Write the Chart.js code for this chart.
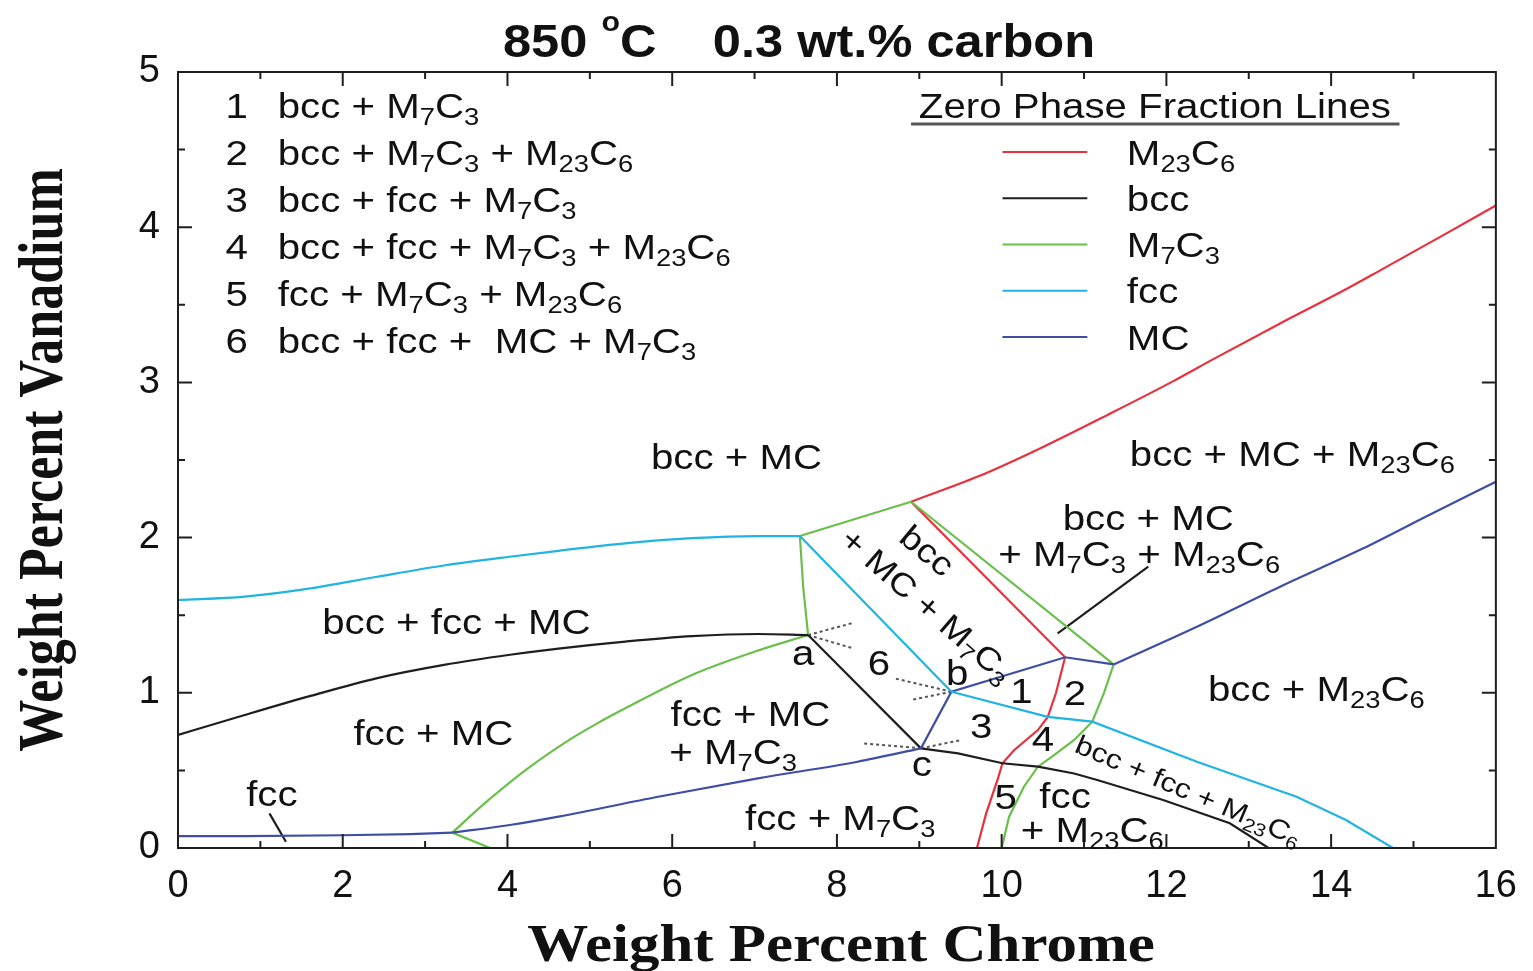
<!DOCTYPE html>
<html>
<head>
<meta charset="utf-8">
<script src="https://cdn.jsdelivr.net/npm/chart.js@4.4.1/dist/chart.umd.min.js"></script>
<style>
html, body { margin: 0; padding: 0; background: #fff; }
</style>
</head>
<body>
<canvas id="diagramaFases" width="1533" height="971"></canvas>
<script>
// Líneas de fracción de fase cero, pares [wt.% Cr, wt.% V]
const m23c6Sup = [[8.90,2.231],[9.71,2.393],[10.51,2.586],[11.32,2.80],[12.09,3.01],[12.57,3.15],[13.38,3.38],[14.18,3.60],[14.59,3.72],[15.4,3.96],[16,4.14]];
const m23c6Med = [[8.90,2.231],[10.77,1.229]];
const m23c6Inf = [[10.77,1.229],[10.66,1.0],[10.56,0.845],[10.44,0.76],[10.15,0.63],[10.01,0.546],[9.95,0.44],[9.81,0.22],[9.70,0]];

const bccIzq = [[0,0.728],[0.81,0.857],[1.61,0.98],[2.42,1.095],[3.23,1.18],[4.03,1.245],[4.62,1.285],[5.43,1.33],[6.24,1.365],[7.04,1.379],[7.65,1.372]];
const bccMed = [[7.65,1.372],[9.02,0.642]];
const bccDer = [[9.02,0.642],[9.47,0.61],[10.01,0.546],[10.44,0.524],[10.88,0.48],[11.16,0.438],[11.96,0.309],[12.77,0.159],[13.24,0]];

const m7c3Base = [[3.79,0],[3.33,0.099]];
const m7c3Curva = [[3.33,0.099],[3.75,0.30],[4.24,0.51],[4.76,0.70],[5.08,0.80],[5.43,0.90],[6.24,1.115],[7.04,1.272],[7.65,1.372]];
const m7c3Vert = [[7.65,1.372],[7.59,1.684],[7.55,2.01]];
const m7c3Sup = [[7.55,2.01],[8.90,2.231]];
const m7c3Diag = [[8.90,2.231],[11.36,1.183]];
const m7c3Inf = [[11.36,1.183],[11.24,0.996],[11.10,0.814],[10.88,0.696],[10.64,0.6],[10.44,0.524],[10.27,0.395],[10.09,0.202],[10.0,0]];

const fccSup = [[0,1.598],[0.81,1.62],[1.61,1.673],[2.42,1.748],[3.23,1.82],[4.0,1.875],[4.62,1.915],[5.43,1.963],[6.24,1.996],[7.04,2.01],[7.55,2.01]];
const fccMed = [[7.55,2.01],[9.39,1.007]];
const fccDer = [[9.39,1.007],[10.56,0.845],[11.10,0.814],[12.37,0.556],[13.58,0.33],[14.18,0.18],[14.75,0]];

const mcPlano = [[0,0.077],[0.81,0.077],[2.0,0.082],[2.82,0.09],[3.33,0.099]];
const mcIzq = [[3.33,0.099],[4.03,0.148],[4.62,0.202],[5.83,0.33],[7.04,0.449],[8.25,0.556],[9.02,0.642]];
const mcMed = [[9.02,0.642],[9.39,1.007],[10.77,1.229],[11.36,1.183]];
const mcDer = [[11.36,1.183],[12.37,1.426],[13.38,1.684],[14.39,1.931],[15.19,2.146],[16,2.36]];

// líneas punteadas en los puntos a, b, c
const punteadas = [
    [[7.65,1.372],[8.18,1.448]], [[7.65,1.372],[8.20,1.286]],
    [[9.39,1.007],[8.70,1.093]], [[9.39,1.007],[8.90,0.954]],
    [[9.02,0.642],[8.30,0.675]], [[9.02,0.642],[9.51,0.696]]
];
// rayitas que señalan regiones
const indicadores = [[[11.78,1.813],[10.68,1.383]], [[1.11,0.223],[1.31,0.04]]];

// ticks
const ticksX = [0, 2, 4, 6, 8, 10, 12, 14, 16];
const ticksY = [0, 1, 2, 3, 4, 5];

// textos (los [] son subíndices, {} superíndice)
const listaFases = [
    'bcc + M[7]C[3]',
    'bcc + M[7]C[3] + M[23]C[6]',
    'bcc + fcc + M[7]C[3]',
    'bcc + fcc + M[7]C[3] + M[23]C[6]',
    'fcc + M[7]C[3] + M[23]C[6]',
    'bcc + fcc +  MC + M[7]C[3]'
];
const nombresLeyenda = ['M[23]C[6]', 'bcc', 'M[7]C[3]', 'fcc', 'MC'];
const regiones = [
    { t: 'bcc + MC', x: 6.78, y: 2.526 },
    { t: 'bcc + MC + M[23]C[6]', x: 13.53, y: 2.545 },
    { t: 'bcc + MC', x: 11.78, y: 2.133 },
    { t: '+ M[7]C[3] + M[23]C[6]', x: 11.67, y: 1.90 },
    { t: 'bcc + fcc + MC', x: 3.38, y: 1.463 },
    { t: 'fcc + MC', x: 3.10, y: 0.747 },
    { t: 'fcc + MC', x: 6.95, y: 0.87 },
    { t: '+ M[7]C[3]', x: 6.74, y: 0.625 },
    { t: 'fcc', x: 1.14, y: 0.354 },
    { t: 'fcc + M[7]C[3]', x: 8.04, y: 0.20 },
    { t: 'bcc + M[23]C[6]', x: 13.82, y: 1.03 },
    { t: '5', x: 10.05, y: 0.335 },
    { t: 'fcc', x: 10.77, y: 0.341 },
    { t: '+ M[23]C[6]', x: 11.10, y: 0.122 },
    { t: '1', x: 10.24, y: 1.018 },
    { t: '2', x: 10.89, y: 1.005 },
    { t: '3', x: 9.75, y: 0.79 },
    { t: '4', x: 10.5, y: 0.709 },
    { t: '6', x: 8.51, y: 1.198 },
    { t: 'a', x: 7.59, y: 1.263 },
    { t: 'b', x: 9.46, y: 1.134 },
    { t: 'c', x: 9.03, y: 0.548 },
    { t: 'bcc + fcc + M[23]C[6]', x: 12.27, y: 0.374, rot: 23, size: 27 },
    { t: 'bcc', x: 9.10, y: 1.92, rot: 40, size: 33 },
    { t: '+ MC + M[7]C[3]', x: 9.10, y: 1.566, rot: 41, size: 32 }
];

const ROJO = '#e8313c', NEGRO = '#1e1e1e', VERDE = '#6abf4b', CIAN = '#1fb4e2', AZUL = '#3f4ea5';
const coloresLeyenda = [ROJO, NEGRO, VERDE, CIAN, AZUL];
const SANS = '"Liberation Sans", Arial, sans-serif';
const SERIF = '"Liberation Serif", "Times New Roman", serif';

function linea(datos, color, suave, dash) {
    return {
        data: datos.map(p => ({ x: p[0], y: p[1] })),
        borderColor: color,
        borderWidth: dash ? 2 : 2.2,
        borderDash: dash || [],
        pointRadius: 0,
        showLine: true,
        cubicInterpolationMode: suave ? 'monotone' : 'default',
        tension: 0,
        fill: false
    };
}

const datasets = [
    linea(fccSup, CIAN, true), linea(fccMed, CIAN), linea(fccDer, CIAN),
    linea(mcPlano, AZUL, true), linea(mcIzq, AZUL, true), linea(mcMed, AZUL), linea(mcDer, AZUL, true),
    linea(bccIzq, NEGRO, true), linea(bccMed, NEGRO), linea(bccDer, NEGRO),
    linea(m7c3Base, VERDE), linea(m7c3Curva, VERDE, true), linea(m7c3Vert, VERDE),
    linea(m7c3Sup, VERDE), linea(m7c3Diag, VERDE), linea(m7c3Inf, VERDE),
    linea(m23c6Sup, ROJO, true), linea(m23c6Med, ROJO), linea(m23c6Inf, ROJO)
];
punteadas.forEach(p => datasets.push(linea(p, '#555', false, [3, 3])));
indicadores.forEach(p => datasets.push(linea(p, NEGRO)));

// texto con subíndices / superíndices y estirado horizontal
function textoRico(ctx, txt, x, y, size, opts) {
    opts = opts || {};
    const sx = opts.sx || 1.15, sy = opts.sy || 1;
    const fam = opts.fam || SANS;
    const peso = opts.bold ? 'bold ' : '';
    const partes = [];
    const re = /\[([^\]]*)\]|\{([^}]*)\}/g;
    let last = 0, m;
    while ((m = re.exec(txt))) {
        if (m.index > last) partes.push({ t: txt.slice(last, m.index), k: 0 });
        if (m[1] !== undefined) partes.push({ t: m[1], k: 1 });
        else partes.push({ t: m[2], k: 2 });
        last = re.lastIndex;
    }
    if (last < txt.length) partes.push({ t: txt.slice(last), k: 0 });

    ctx.save();
    ctx.translate(x, y);
    if (opts.rot) ctx.rotate(opts.rot * Math.PI / 180);
    ctx.scale(sx, sy);
    let w = 0;
    partes.forEach(p => {
        p.s = p.k === 0 ? size : size * (p.k === 1 ? 0.68 : 0.6);
        ctx.font = peso + p.s + 'px ' + fam;
        p.w = ctx.measureText(p.t).width;
        w += p.w;
    });
    let cx = opts.align === 'left' ? 0 : (opts.align === 'right' ? -w : -w / 2);
    ctx.fillStyle = '#111';
    ctx.textBaseline = 'alphabetic';
    partes.forEach(p => {
        ctx.font = peso + p.s + 'px ' + fam;
        let dy = size * 0.36;
        if (p.k === 1) dy += size * 0.2;
        if (p.k === 2) dy -= size * 0.55;
        ctx.fillText(p.t, cx, dy);
        cx += p.w;
    });
    ctx.restore();
}

const decorado = {
    id: 'decorado',
    afterDraw(chart) {
        const { ctx, chartArea: ca, scales } = chart;
        const sx = scales.x, sy = scales.y;
        const X = v => sx.getPixelForValue(v), Y = v => sy.getPixelForValue(v);

        // marco y marcas hacia adentro
        ctx.save();
        ctx.strokeStyle = NEGRO;
        ctx.lineWidth = 2;
        ctx.strokeRect(ca.left, ca.top, ca.right - ca.left, ca.bottom - ca.top);
        ctx.beginPath();
        for (let v = 1; v < 16; v++) {
            const l = v % 2 === 0 ? 14 : 7;
            ctx.moveTo(X(v), ca.bottom); ctx.lineTo(X(v), ca.bottom - l);
            ctx.moveTo(X(v), ca.top); ctx.lineTo(X(v), ca.top + l);
        }
        for (let v = 0.5; v < 5; v += 0.5) {
            const l = Number.isInteger(v) ? 14 : 7;
            ctx.moveTo(ca.left, Y(v)); ctx.lineTo(ca.left + l, Y(v));
            ctx.moveTo(ca.right, Y(v)); ctx.lineTo(ca.right - l, Y(v));
        }
        ctx.stroke();
        ctx.restore();

        // título y ejes
        textoRico(ctx, '850 {o}C    0.3 wt.% carbon', X(7.54), ca.top - 32, 46, { bold: true, sx: 1.1 });
        textoRico(ctx, 'Weight Percent Chrome', X(8.05), ca.bottom + 94, 53, { bold: true, fam: SERIF });
        textoRico(ctx, 'Weight Percent Vanadium', 40, Y(2.5), 52, { bold: true, fam: SERIF, rot: -90, sx: 1, sy: 1.2 });

        // lista de regiones numeradas
        listaFases.forEach((t, i) => {
            const yy = Y(4.787 - i * 0.303);
            textoRico(ctx, String(i + 1), X(0.714), yy, 35);
            textoRico(ctx, t, X(1.21), yy, 35, { align: 'left' });
        });

        // leyenda de líneas
        textoRico(ctx, 'Zero Phase Fraction Lines', X(11.86), Y(4.787), 35);
        ctx.save();
        ctx.strokeStyle = '#555';
        ctx.lineWidth = 3;
        ctx.beginPath();
        ctx.moveTo(X(8.9), Y(4.665)); ctx.lineTo(X(14.83), Y(4.665));
        ctx.stroke();
        ctx.restore();
        nombresLeyenda.forEach((t, i) => {
            const yy = Y(4.485 - i * 0.298);
            ctx.save();
            ctx.strokeStyle = coloresLeyenda[i];
            ctx.lineWidth = 2;
            ctx.beginPath();
            ctx.moveTo(X(10.01), yy); ctx.lineTo(X(11.04), yy);
            ctx.stroke();
            ctx.restore();
            textoRico(ctx, t, X(11.52), yy, 35, { align: 'left' });
        });

        // etiquetas de regiones
        regiones.forEach(r => {
            textoRico(ctx, r.t, X(r.x), Y(r.y), r.size || 35, { rot: r.rot });
        });
    }
};

new Chart(document.getElementById('diagramaFases').getContext('2d'), {
    type: 'scatter',
    data: { datasets: datasets },
    options: {
        responsive: false,
        animation: false,
        devicePixelRatio: 1,
        layout: { padding: { top: 72, right: 29, left: 0, bottom: 0 } },
        plugins: {
            legend: { display: false },
            tooltip: { enabled: false },
            title: { display: false }
        },
        scales: {
            x: {
                type: 'linear',
                min: 0,
                max: 16,
                afterBuildTicks: s => { s.ticks = ticksX.map(v => ({ value: v })); },
                afterFit: s => { s.height = 123; },
                ticks: { color: '#111', padding: 16, maxRotation: 0, font: { family: SANS, size: 38 } },
                grid: { display: false, drawTicks: false },
                border: { display: false }
            },
            y: {
                type: 'linear',
                min: 0,
                max: 5,
                afterBuildTicks: s => { s.ticks = ticksY.map(v => ({ value: v })); },
                afterFit: s => { s.width = 178; },
                ticks: { color: '#111', padding: 18, font: { family: SANS, size: 38 } },
                grid: { display: false, drawTicks: false },
                border: { display: false }
            }
        }
    },
    plugins: [decorado]
});
</script>
</body>
</html>
